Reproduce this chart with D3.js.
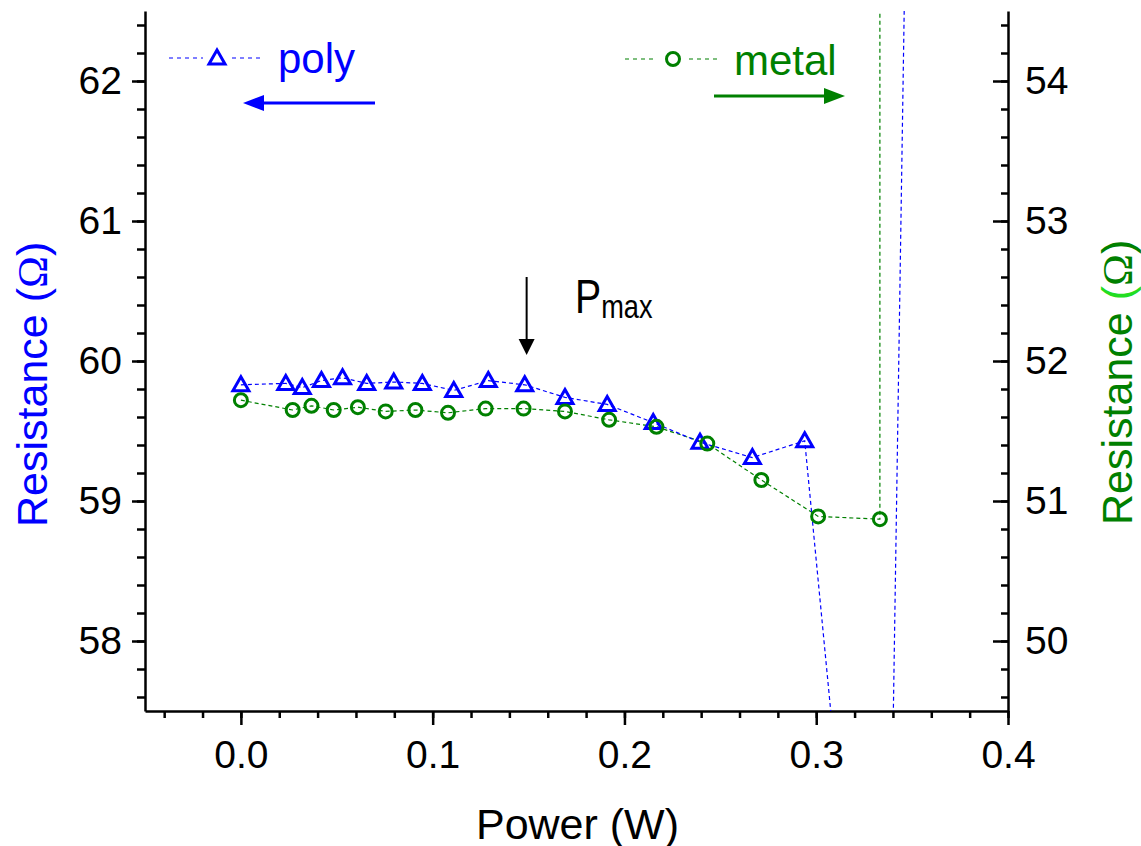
<!DOCTYPE html>
<html><head><meta charset="utf-8">
<script src="https://cdn.jsdelivr.net/npm/d3@7"></script>
<style>
html,body{margin:0;padding:0;background:#fff;}
svg{display:block;font-family:"Liberation Sans",Arial,sans-serif;}
</style></head>
<body>
<svg id="chart" width="1141" height="846"></svg>
<script>
// ---- data ----
const polyX = [0, 0.0234, 0.032, 0.042, 0.053, 0.0656, 0.0797, 0.0946, 0.111, 0.129, 0.148, 0.169, 0.191, 0.215, 0.2394, 0.2667, 0.294, 0.3357, 0.36];
const polyY = [59.83, 59.84, 59.81, 59.86, 59.88, 59.84, 59.85, 59.84, 59.79, 59.86, 59.83, 59.74, 59.69, 59.56, 59.42, 59.31, 59.43, 53.5, 75];
const metalX = [0, 0.027, 0.0368, 0.0484, 0.061, 0.0755, 0.091, 0.108, 0.1276, 0.1474, 0.169, 0.192, 0.2167, 0.2432, 0.2714, 0.301, 0.3332, 0.3332];
const metalY = [51.72, 51.65, 51.68, 51.65, 51.67, 51.64, 51.65, 51.63, 51.66, 51.66, 51.64, 51.58, 51.53, 51.41, 51.15, 50.89, 50.87, 60];
const xTicks = [0.0, 0.1, 0.2, 0.3, 0.4];
const xMinor = d3.range(-0.04, 0.4001, 0.02);
const yLTicks = [58, 59, 60, 61, 62];
const yLMinor = d3.range(57.6, 62.5, 0.2);
const yRTicks = [50, 51, 52, 53, 54];
const yRMinor = d3.range(49.6, 54.5, 0.2);
const pmaxX = 0.149;

const svg = d3.select("#chart");
const L = 145, R = 1008, T = 11, B = 711;
const x = d3.scaleLinear([-0.05, 0.4], [L, R]);
const yL = d3.scaleLinear([57.5, 62.5], [B, T]);
const yR = d3.scaleLinear([49.5, 54.5], [B, T]);
const BLUE = "#0000ff", GREEN = "#008000";

svg.append("defs").append("clipPath").attr("id", "clip")
  .append("rect").attr("x", L).attr("y", T).attr("width", R - L).attr("height", B - T);

function styleAxis(g) {
  g.selectAll("path.domain").attr("stroke", "#000").attr("stroke-width", 2.5);
  g.selectAll(".tick line").attr("stroke", "#000").attr("stroke-width", 2.5);
  g.selectAll("text").attr("font-size", 39).attr("fill", "#000")
    .attr("font-family", "'Liberation Sans', Arial, sans-serif");
}
// minor ticks
svg.append("g").attr("transform", `translate(0,${B})`)
  .call(d3.axisBottom(x).tickValues(xMinor).tickSize(7).tickFormat(""))
  .call(g => { g.select(".domain").remove(); styleAxis(g); });
svg.append("g").attr("transform", `translate(${L},0)`)
  .call(d3.axisLeft(yL).tickValues(yLMinor).tickSize(8).tickFormat(""))
  .call(g => { g.select(".domain").remove(); styleAxis(g); });
svg.append("g").attr("transform", `translate(${R},0)`)
  .call(d3.axisRight(yR).tickValues(yRMinor).tickSize(-7).tickFormat(""))
  .call(g => { g.select(".domain").remove(); styleAxis(g); });
// major axes
svg.append("g").attr("transform", `translate(0,${B})`)
  .call(d3.axisBottom(x).tickValues(xTicks).tickSizeInner(14).tickSizeOuter(0).tickPadding(15).tickFormat(d3.format(".1f")))
  .call(styleAxis);
svg.append("g").attr("transform", `translate(${L},0)`)
  .call(d3.axisLeft(yL).tickValues(yLTicks).tickSizeInner(13).tickSizeOuter(0).tickPadding(10).tickFormat(d3.format("d")))
  .call(styleAxis);
svg.append("g").attr("transform", `translate(${R},0)`)
  .call(d3.axisRight(yR).tickValues(yRTicks).tickSizeInner(-15).tickSizeOuter(0).tickPadding(17).tickFormat(d3.format("d")))
  .call(styleAxis);

// data
const plot = svg.append("g").attr("clip-path", "url(#clip)");
const poly = polyX.map((v, i) => [v, polyY[i]]);
const metal = metalX.map((v, i) => [v, metalY[i]]);
plot.append("path").datum(metal)
  .attr("d", d3.line().x(d => x(d[0])).y(d => yR(d[1])))
  .attr("fill", "none").attr("stroke", GREEN).attr("stroke-width", 1.2).attr("stroke-dasharray", "4,3");
plot.append("path").datum(poly)
  .attr("d", d3.line().x(d => x(d[0])).y(d => yL(d[1])))
  .attr("fill", "none").attr("stroke", BLUE).attr("stroke-width", 1.2).attr("stroke-dasharray", "4,3");
const triPath = "M0,-9L8,5L-8,5Z";
plot.selectAll("path.tri").data(poly).join("path").attr("class", "tri")
  .attr("d", triPath).attr("transform", d => `translate(${x(d[0])},${yL(d[1]) + 1})`)
  .attr("fill", "none").attr("stroke", BLUE).attr("stroke-width", 3).attr("stroke-linejoin", "miter");
plot.selectAll("circle.met").data(metal).join("circle").attr("class", "met")
  .attr("cx", d => x(d[0])).attr("cy", d => yR(d[1])).attr("r", 6.5)
  .attr("fill", "none").attr("stroke", GREEN).attr("stroke-width", 3);

// legend
const lg = svg.append("g");
lg.append("line").attr("x1", 169).attr("x2", 203).attr("y1", 58).attr("y2", 58)
  .attr("stroke", BLUE).attr("stroke-width", 1.2).attr("stroke-dasharray", "4,4");
lg.append("line").attr("x1", 232).attr("x2", 262).attr("y1", 58).attr("y2", 58)
  .attr("stroke", BLUE).attr("stroke-width", 1.2).attr("stroke-dasharray", "4,4");
lg.append("path").attr("d", triPath).attr("transform", "translate(217,59)")
  .attr("fill", "none").attr("stroke", BLUE).attr("stroke-width", 3);
lg.append("text").attr("x", 278).attr("y", 73).attr("font-size", 42).attr("fill", BLUE).text("poly");
lg.append("line").attr("x1", 260).attr("x2", 375).attr("y1", 103).attr("y2", 103)
  .attr("stroke", BLUE).attr("stroke-width", 3);
lg.append("path").attr("d", "M243,103L264,95L264,111Z").attr("fill", BLUE);

lg.append("line").attr("x1", 625).attr("x2", 655).attr("y1", 59).attr("y2", 59)
  .attr("stroke", GREEN).attr("stroke-width", 1.2).attr("stroke-dasharray", "4,4");
lg.append("line").attr("x1", 689).attr("x2", 718).attr("y1", 59).attr("y2", 59)
  .attr("stroke", GREEN).attr("stroke-width", 1.2).attr("stroke-dasharray", "4,4");
lg.append("circle").attr("cx", 673).attr("cy", 59).attr("r", 6.5)
  .attr("fill", "none").attr("stroke", GREEN).attr("stroke-width", 3);
lg.append("text").attr("x", 734).attr("y", 75).attr("font-size", 42).attr("fill", GREEN).text("metal");
lg.append("line").attr("x1", 714).attr("x2", 828).attr("y1", 96).attr("y2", 96)
  .attr("stroke", GREEN).attr("stroke-width", 3);
lg.append("path").attr("d", "M845,96L824,88L824,104Z").attr("fill", GREEN);

// Pmax annotation
const px = x(pmaxX);
svg.append("line").attr("x1", px).attr("x2", px).attr("y1", 277).attr("y2", 342)
  .attr("stroke", "#000").attr("stroke-width", 2);
svg.append("path").attr("d", `M${px},355L${px - 8},339L${px + 8},339Z`).attr("fill", "#000");
const pt = svg.append("text").attr("transform", "translate(575,313) scale(0.8,1)")
  .attr("font-family", "'Liberation Sans',Arial,sans-serif").attr("fill", "#000");
pt.append("tspan").attr("font-size", 49).text("P");
pt.append("tspan").attr("font-size", 34).attr("dy", 5).text("max");

// axis titles
svg.append("text").attr("x", (L + R) / 2 + 1).attr("y", 839).attr("text-anchor", "middle")
  .attr("font-size", 43).attr("fill", "#000").text("Power (W)");
function yTitle(xpos, ypos, col, parenCol) {
  const t = svg.append("text").attr("transform", `translate(${xpos},${ypos}) rotate(-90)`)
    .attr("font-size", 43).attr("fill", col);
  t.append("tspan").text("Resistance ");
  t.append("tspan").attr("fill", parenCol).text("(");
  t.append("tspan").attr("font-family", "'Liberation Serif','Times New Roman',serif").text("Ω");
  t.append("tspan").text(")");
}
yTitle(47, 527, BLUE, BLUE);
yTitle(1132, 525, GREEN, "#22dd22");

// corner code (cut off at the bottom edge, as in the reference)
svg.append("text").attr("x", 1048).attr("y", 866).attr("font-size", 30).attr("fill", "#000").text("CHL 93");
</script>
</body></html>
